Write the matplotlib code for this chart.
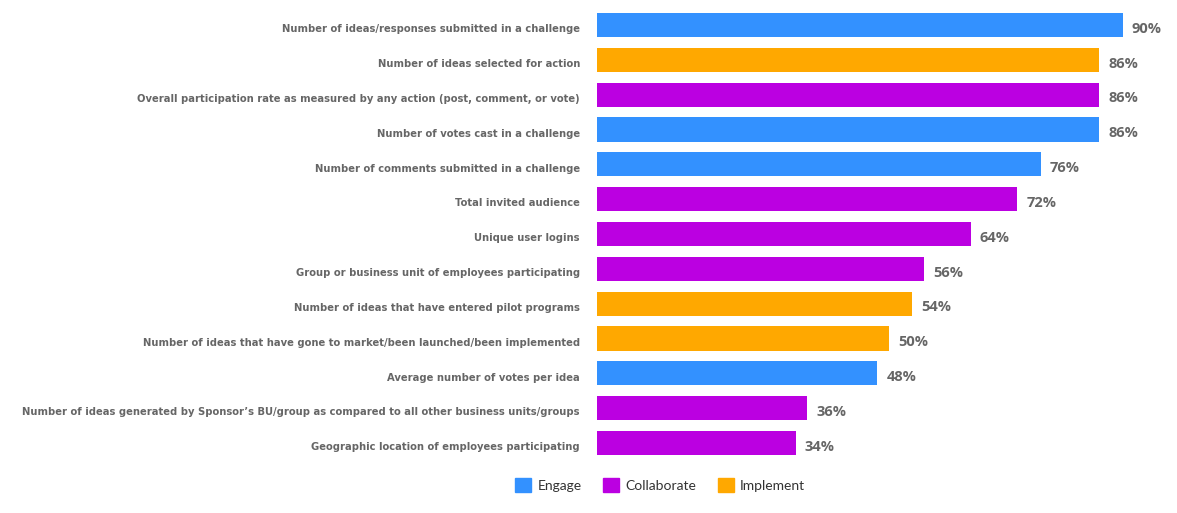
import matplotlib
matplotlib.use("Agg")
import matplotlib.pyplot as plt
from matplotlib.patches import Patch

categories = [
    "Number of ideas/responses submitted in a challenge",
    "Number of ideas selected for action",
    "Overall participation rate as measured by any action (post, comment, or vote)",
    "Number of votes cast in a challenge",
    "Number of comments submitted in a challenge",
    "Total invited audience",
    "Unique user logins",
    "Group or business unit of employees participating",
    "Number of ideas that have entered pilot programs",
    "Number of ideas that have gone to market/been launched/been implemented",
    "Average number of votes per idea",
    "Number of ideas generated by Sponsor\u2019s BU/group as compared to all other business units/groups",
    "Geographic location of employees participating",
]
values = [90, 86, 86, 86, 76, 72, 64, 56, 54, 50, 48, 36, 34]
groups = ["Engage", "Implement", "Collaborate", "Engage", "Engage", "Collaborate",
          "Collaborate", "Collaborate", "Implement", "Implement", "Engage",
          "Collaborate", "Collaborate"]
legend_order = ["Engage", "Collaborate", "Implement"]
palette = {"Engage": "#3391FF", "Collaborate": "#BB00E1", "Implement": "#FFA800"}

gray = "#666666"
fig = plt.figure(figsize=(11.77, 5.13), dpi=100)
ax = fig.add_axes([597/1177, 1 - 460.4/513, 1 - 597/1177, (460.4 - 7.6)/513])

ypos = list(range(len(categories)))
ax.barh(ypos, values, height=0.69, color=[palette[g] for g in groups])
ax.set_ylim(len(categories) - 0.5, -0.5)
ax.set_xlim(0, 580 / 5.84)
ax.set_yticks([])
ax.set_xticks([])
for s in ax.spines.values():
    s.set_visible(False)

for y, label in zip(ypos, categories):
    ax.annotate(label, (0, y), xytext=(-17, -7.3), textcoords="offset pixels",
                ha="right", va="baseline", fontfamily="DejaVu Sans",
                fontweight="bold", fontsize=7.2, color=gray, annotation_clip=False)

for y, v in zip(ypos, values):
    ax.annotate(f"{v}%", (v, y), xytext=(9, -7.7), textcoords="offset pixels",
                ha="left", va="baseline", fontfamily="Open Sans", fontweight="bold",
                fontsize=10.5, color=gray)

handles = [Patch(color=palette[g], label=g) for g in legend_order]
fig.legend(handles=handles, loc="center", bbox_to_anchor=(0.561, 1 - 485/513),
           ncol=3, frameon=False, handlelength=1.15, handleheight=1.15,
           handletextpad=0.45, columnspacing=1.55,
           prop={"family": "Lato", "size": 10})
for t in fig.legends[0].get_texts():
    t.set_color("#333333")

fig.savefig("out.png", dpi=100)
